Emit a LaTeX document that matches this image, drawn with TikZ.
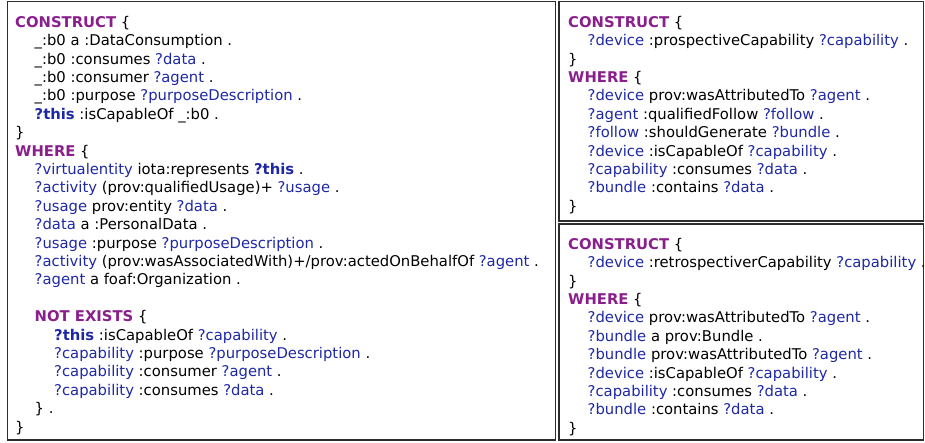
\documentclass[tikz,border=0pt]{standalone}
\usepackage{fontspec}
\setmainfont{DejaVu Sans}
\definecolor{kwpurple}{RGB}{138,30,140}
\definecolor{varblue}{RGB}{30,40,165}
\definecolor{framegray}{RGB}{45,45,45}
\newcommand{\kw}[1]{\textcolor{kwpurple}{\textbf{#1}}}
\newcommand{\vr}[1]{\textcolor{varblue}{#1}}
\newcommand{\vb}[1]{\textcolor{varblue}{\textbf{#1}}}
\newcommand{\ia}{\hspace*{19.5pt}}
\newcommand{\ib}{\hspace*{39pt}}
\tikzset{
  frame/.style={draw=framegray, line width=1.5pt},
  code/.style={anchor=north west, inner sep=0pt, align=left,
    font=\fontsize{14.8}{18.4}\selectfont}
}
\begin{document}
\begin{tikzpicture}[x=1pt,y=-1pt]
\useasboundingbox (0,0) rectangle (925,443);
\draw[frame] (7.5,1.5) rectangle (555.5,440);
\draw[frame] (559,1.5) rectangle (923.5,221);
\draw[frame] (559,224) rectangle (923.5,440);
\node[code] (left) at (15,15.8) {%
\kw{CONSTRUCT} \{\\
\ia \_:b0 a :DataConsumption .\\
\ia \_:b0 :consumes \vr{?data} .\\
\ia \_:b0 :consumer \vr{?agent} .\\
\ia \_:b0 :purpose \vr{?purposeDescription} .\\
\ia \vb{?this} :isCapableOf \_:b0 .\\
\}\\
\kw{WHERE} \{\\
\ia \vr{?virtualentity} iota:represents \vb{?this} .\\
\ia \vr{?activity} (prov:qualifiedUsage)+ \vr{?usage} .\\
\ia \vr{?usage} prov:entity \vr{?data} .\\
\ia \vr{?data} a :PersonalData .\\
\ia \vr{?usage} :purpose \vr{?purposeDescription} .\\
\ia \vr{?activity} (prov:wasAssociatedWith)+/prov:actedOnBehalfOf \vr{?agent} .\\
\ia \vr{?agent} a foaf:Organization .\\
\mbox{}\\
\ia \kw{NOT EXISTS} \{\\
\ib \vb{?this} :isCapableOf \vr{?capability} .\\
\ib \vr{?capability} :purpose \vr{?purposeDescription} .\\
\ib \vr{?capability} :consumer \vr{?agent} .\\
\ib \vr{?capability} :consumes \vr{?data} .\\
\ia \} .\\
\}};
\node[code] (prosp) at (568,15.8) {%
\kw{CONSTRUCT} \{\\
\ia \vr{?device} :prospectiveCapability \vr{?capability} .\\
\}\\
\kw{WHERE} \{\\
\ia \vr{?device} prov:wasAttributedTo \vr{?agent} .\\
\ia \vr{?agent} :qualifiedFollow \vr{?follow} .\\
\ia \vr{?follow} :shouldGenerate \vr{?bundle} .\\
\ia \vr{?device} :isCapableOf \vr{?capability} .\\
\ia \vr{?capability} :consumes \vr{?data} .\\
\ia \vr{?bundle} :contains \vr{?data} .\\
\}};
\node[code] (retro) at (568,237.8) {%
\kw{CONSTRUCT} \{\\
\ia \vr{?device} :retrospectiverCapability \vr{?capability} .\\
\}\\
\kw{WHERE} \{\\
\ia \vr{?device} prov:wasAttributedTo \vr{?agent} .\\
\ia \vr{?bundle} a prov:Bundle .\\
\ia \vr{?bundle} prov:wasAttributedTo \vr{?agent} .\\
\ia \vr{?device} :isCapableOf \vr{?capability} .\\
\ia \vr{?capability} :consumes \vr{?data} .\\
\ia \vr{?bundle} :contains \vr{?data} .\\
\}};
\end{tikzpicture}
\end{document}
